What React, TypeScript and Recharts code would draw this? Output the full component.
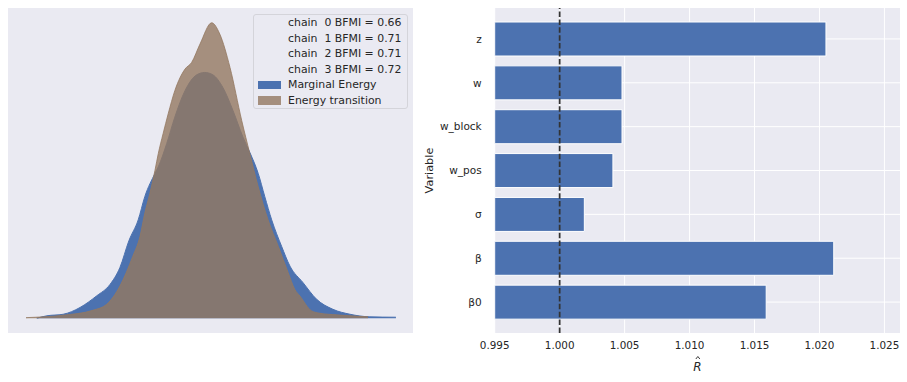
import { Area, Bar, BarChart, CartesianGrid, ComposedChart, ReferenceLine, XAxis, YAxis } from 'recharts';

// energy plot (KDE of marginal energy and energy transition)
const marginalX = [-5.77, -5.44, -4.89, -4.33, -3.78, -3.33, -3.0, -2.7, -2.39, -2.17, -1.83, -1.72, -1.44, -1.17, -0.83, -0.44, -0.17, 0.1, 0.43, 0.77, 1.1, 1.33, 1.61, 1.83, 2.06, 2.39, 2.67, 3.1, 3.56, 4.1, 4.67, 5.33, 6.2];
const marginalDensity = [0, 0.0012, 0.002, 0.0054, 0.0112, 0.017, 0.0255, 0.039, 0.0495, 0.0612, 0.0729, 0.0762, 0.0879, 0.1012, 0.1145, 0.1225, 0.1237, 0.1225, 0.1162, 0.1045, 0.0912, 0.0835, 0.0729, 0.0612, 0.0495, 0.0362, 0.0262, 0.018, 0.0095, 0.0045, 0.002, 0.0007, 0.0005];
const transitionX = [-6.13, -4.9, -3.9, -3.44, -3.0, -2.57, -2.33, -2.17, -2.0, -1.83, -1.72, -1.56, -1.39, -1.17, -0.83, -0.61, -0.33, 0.06, 0.33, 0.67, 1.06, 1.33, 1.61, 1.94, 2.28, 2.61, 2.83, 3.0, 3.39, 3.67, 4.22, 5.27];
const transitionDensity = [0.0003, 0.0015, 0.004, 0.007, 0.0162, 0.0312, 0.0412, 0.0529, 0.0629, 0.0745, 0.0829, 0.0929, 0.1029, 0.1145, 0.1254, 0.1287, 0.138, 0.1487, 0.143, 0.1262, 0.0995, 0.0829, 0.0662, 0.0495, 0.0362, 0.0229, 0.0145, 0.0112, 0.0037, 0.0025, 0.0017, 0.0007];
const bfmiChains = [0, 1, 2, 3];
const bfmiValues = [0.66, 0.71, 0.71, 0.72];

// r-hat per variable
const variables = ['z', 'w', 'w_block', 'w_pos', 'σ', 'β', 'β0'];
const rhatValues = [1.0205, 1.0048, 1.0048, 1.0041, 1.0019, 1.0211, 1.0159];
const rhatTicks = [0.995, 1.0, 1.005, 1.01, 1.015, 1.02, 1.025];

const BLUE = '#4C72B0';
const BROWN = '#937860';
const BG = '#EAEAF2';
const TEXT = '#262626';
const FONT = 'DejaVu Sans';

const marginalData = marginalX.map((e, i) => ({ e, d: marginalDensity[i] }));
const transitionData = transitionX.map((e, i) => ({ e, d: transitionDensity[i] }));
const peak = Math.max(...marginalDensity, ...transitionDensity);
const rhatData = variables.map((v, i) => ({ variable: v, rhat: rhatValues[i] }));

function EnergyLegend() {
  const rows = bfmiChains.map((c, i) => `chain  ${c} BFMI = ${bfmiValues[i].toFixed(2)}`);
  return (
    <div
      style={{
        position: 'absolute', left: 245, top: 6, width: 153, height: 93,
        border: '1px solid #D4D4DA', borderRadius: 3, background: BG,
        fontFamily: FONT, fontSize: 10.9, color: TEXT, lineHeight: '15.5px', whiteSpace: 'pre',
      }}
    >
      {rows.map((r) => (
        <div key={r} style={{ paddingLeft: 34 }}>{r}</div>
      ))}
      {[['Marginal Energy', BLUE, 1], ['Energy transition', BROWN, 0.8]].map(([name, color, op]) => (
        <div key={name as string} style={{ position: 'relative', paddingLeft: 34 }}>
          <span style={{ position: 'absolute', left: 4, top: 3.5, width: 23, height: 8.7, background: color as string, opacity: op as number }} />
          {name}
        </div>
      ))}
    </div>
  );
}

function RhatLabel({ viewBox }: any) {
  const cx = viewBox.x + viewBox.width / 2;
  const y = viewBox.y + 34;
  return (
    <g fontFamily={FONT}>
      <text x={cx} y={y} textAnchor="middle" dominantBaseline="central" fontStyle="italic" fontSize={12} fill={TEXT}>R</text>
      <polyline points={`${cx - 1.5},${y - 8} ${cx + 0.5},${y - 10.5} ${cx + 2.5},${y - 8}`} fill="none" stroke={TEXT} strokeWidth={0.9} />
    </g>
  );
}

function VariableLabel({ viewBox }: any) {
  const x = viewBox.x + 9;
  const y = viewBox.y + viewBox.height / 2;
  return (
    <text x={x} y={y} transform={`rotate(-90, ${x}, ${y})`} textAnchor="middle" dominantBaseline="central"
      fill={TEXT} fontFamily={FONT} fontSize={11.3}>
      Variable
    </text>
  );
}

export default function App() {
  return (
    <div style={{ position: 'absolute', left: 0, top: 0, width: 907, height: 382, background: '#fff', fontFamily: FONT }}>
      <div style={{ position: 'absolute', left: 8, top: 8, width: 405, height: 325, background: BG }}>
        <ComposedChart width={405} height={325} margin={{ top: 0, right: 0, bottom: 0, left: 0 }}>
          <XAxis type="number" dataKey="e" domain={[-6.73, 6.77]} allowDataOverflow hide />
          <YAxis type="number" dataKey="d" domain={[-0.05 * peak, 1.05 * peak]} allowDataOverflow hide />
          <Area data={marginalData} dataKey="d" type="monotone" baseValue={0} fill={BLUE} fillOpacity={1}
            stroke={BLUE} strokeWidth={1} isAnimationActive={false} />
          <Area data={transitionData} dataKey="d" type="monotone" baseValue={0} fill={BROWN} fillOpacity={0.8}
            stroke={BROWN} strokeOpacity={0.8} strokeWidth={1} isAnimationActive={false} />
        </ComposedChart>
        <EnergyLegend />
      </div>
      <div style={{ position: 'absolute', left: 420, top: 0 }}>
        <BarChart layout="vertical" width={487} height={382} data={rhatData} barSize={34}
          margin={{ top: 8, right: 7, bottom: 0, left: 0 }}>
          <CartesianGrid fill={BG} stroke="#fff" strokeWidth={1} syncWithTicks />
          <XAxis type="number" domain={[0.995, 1.0262]} allowDataOverflow ticks={rhatTicks}
            tickFormatter={(v: number) => v.toFixed(3)} axisLine={false} tickLine={false} tickSize={0} tickMargin={9}
            height={49} tick={{ fontSize: 10.4, fill: TEXT, fontFamily: FONT }} label={{ content: RhatLabel }} />
          <YAxis type="category" dataKey="variable" width={74.7} axisLine={false} tickLine={false} tickSize={0}
            tickMargin={13} padding={{ top: 9, bottom: 9 }} interval={0}
            tick={{ fontSize: 10.5, fill: TEXT, fontFamily: FONT }} label={{ content: VariableLabel }} />
          <Bar dataKey="rhat" fill={BLUE} stroke="#fff" strokeWidth={1} isAnimationActive={false} />
          <ReferenceLine x={1} stroke="#333" strokeDasharray="5.5 2.4" strokeWidth={1.75} />
        </BarChart>
      </div>
    </div>
  );
}
